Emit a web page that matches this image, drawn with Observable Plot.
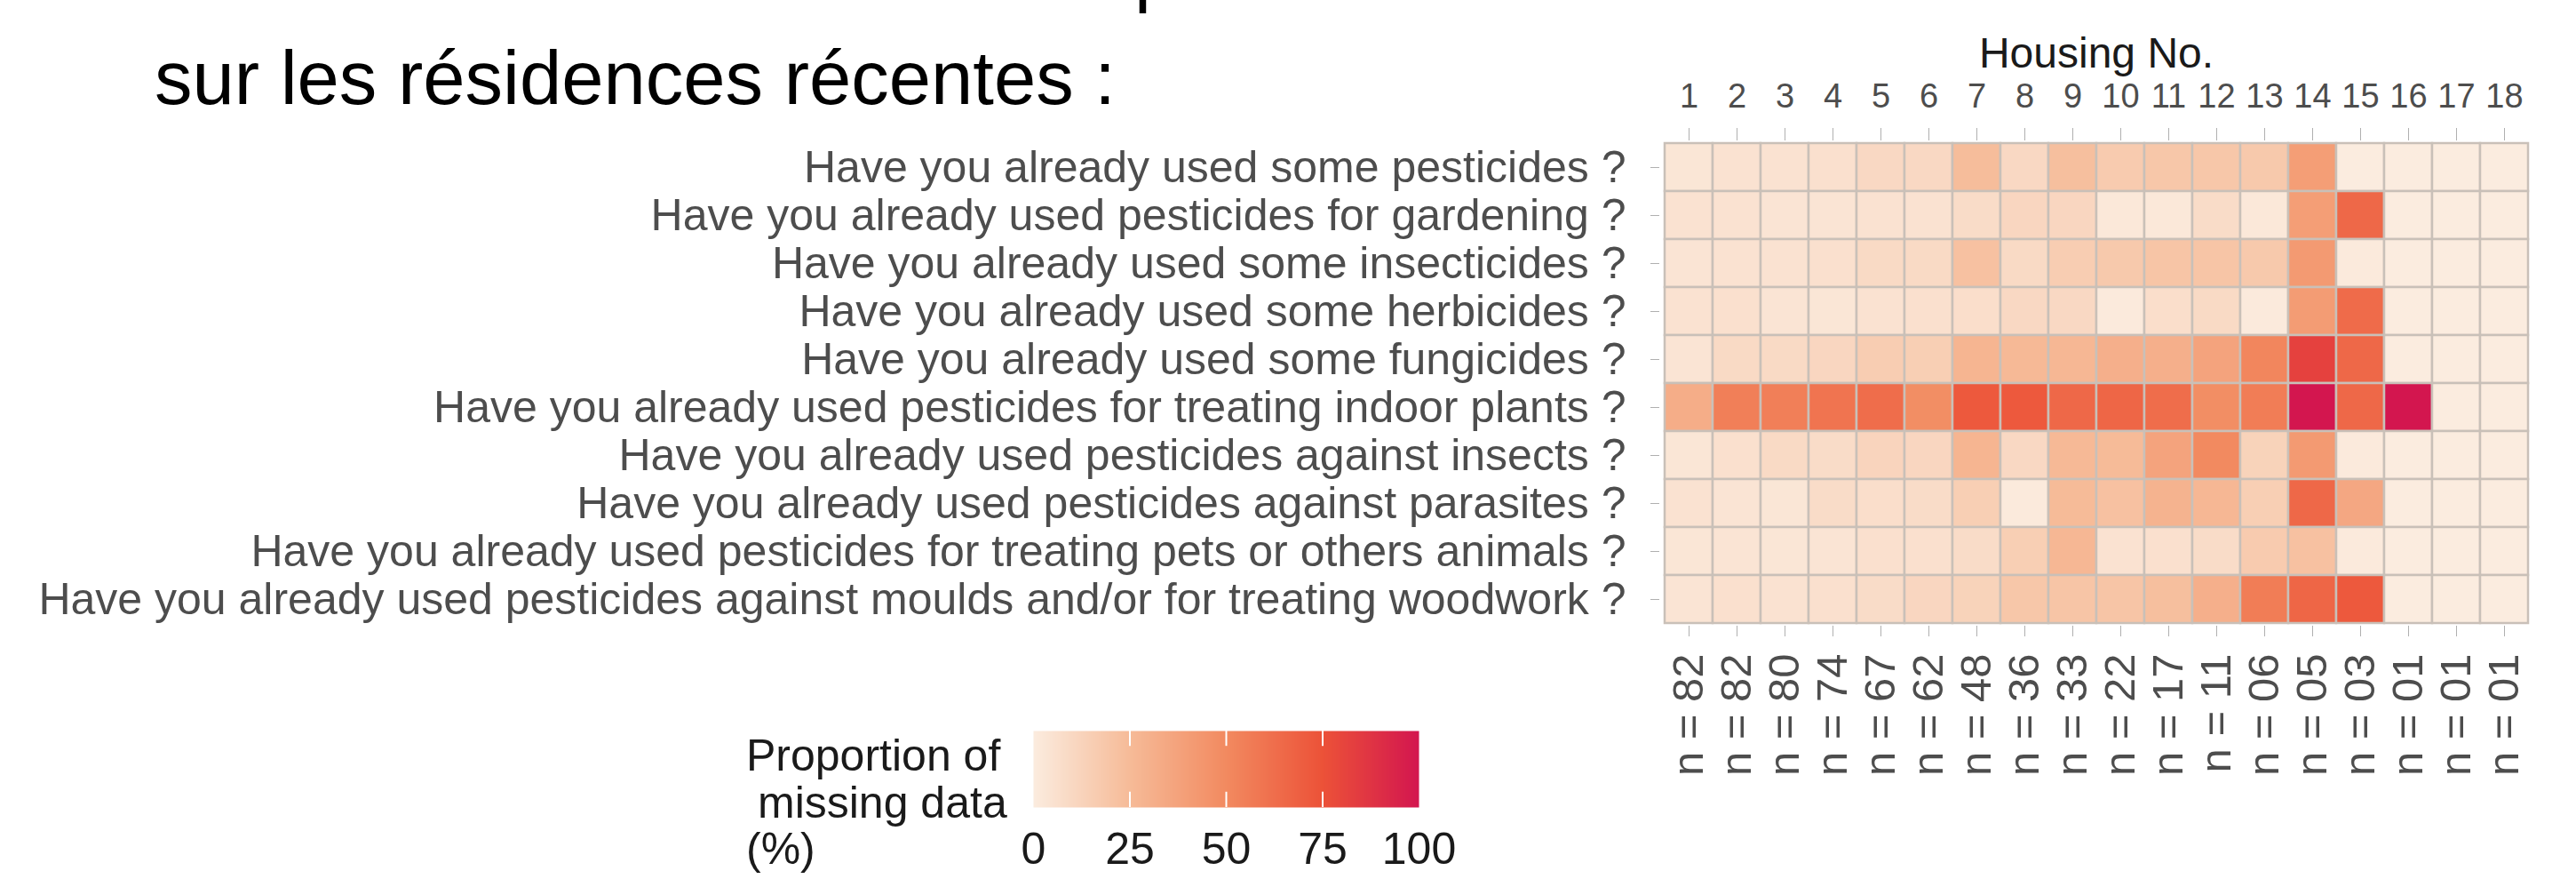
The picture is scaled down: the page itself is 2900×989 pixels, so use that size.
<!DOCTYPE html>
<html><head><meta charset="utf-8">
<script src="https://cdn.jsdelivr.net/npm/d3@7"></script>
<script src="https://cdn.jsdelivr.net/npm/@observablehq/plot@0.6"></script>
<style>
body{margin:0;background:#fff;width:2900px;height:989px;overflow:hidden;position:relative;font-family:"Liberation Sans",Arial,sans-serif;}
.abs{position:absolute;white-space:nowrap;line-height:1;}
</style></head><body>
<div id="chart" class="abs" style="left:0;top:0"></div>
<div id="legend" class="abs" style="left:1100px;top:800px"></div>
<div class="abs" style="left:1277px;top:-75px;font-size:85px;color:#000">p</div>
<div class="abs" style="left:174px;top:45px;font-size:85px;color:#000">sur les résidences récentes :</div>
<div class="abs" style="left:840px;top:825px;font-size:50px;color:#1a1a1a">Proportion of</div>
<div class="abs" style="left:853px;top:878px;font-size:50px;color:#1a1a1a">missing data</div>
<div class="abs" style="left:840px;top:930px;font-size:50px;color:#1a1a1a">(%)</div>
<script>
const houses = ["1","2","3","4","5","6","7","8","9","10","11","12","13","14","15","16","17","18"];
const nLabels = ["n = 82","n = 82","n = 80","n = 74","n = 67","n = 62","n = 48","n = 36","n = 33","n = 22","n = 17","n = 11","n = 06","n = 05","n = 03","n = 01","n = 01","n = 01"];
const questions = [
  "Have you already used some pesticides ?",
  "Have you already used pesticides for gardening ?",
  "Have you already used some insecticides ?",
  "Have you already used some herbicides ?",
  "Have you already used some fungicides ?",
  "Have you already used pesticides for treating indoor plants ?",
  "Have you already used pesticides against insects ?",
  "Have you already used pesticides against parasites ?",
  "Have you already used pesticides for treating pets or others animals ?",
  "Have you already used pesticides against moulds and/or for treating woodwork ?"
];
// proportion of missing data (%), one list per question, one value per housing
const missing = [
  [3, 5, 5, 6, 10, 10, 24, 10, 23, 17, 19, 19, 18, 40, 0, 0, 0, 0],
  [5, 5, 4, 4, 5, 5, 8, 11, 11, 2, 2, 8, 2, 40, 65, 0, 0, 0],
  [4, 5, 5, 6, 9, 9, 22, 9, 16, 18, 20, 20, 18, 42, 1, 0, 0, 0],
  [5, 6, 4, 3, 5, 6, 7, 10, 10, 1, 7, 9, 1, 41, 64, 0, 0, 0],
  [4, 9, 9, 11, 16, 15, 28, 26, 27, 31, 31, 37, 52, 82, 65, 0, 0, 0],
  [32, 55, 55, 60, 63, 48, 72, 72, 65, 66, 63, 48, 56, 100, 65, 100, 0, 0],
  [3, 6, 9, 8, 12, 11, 28, 10, 26, 25, 37, 50, 13, 42, 1, 0, 0, 0],
  [5, 4, 3, 8, 7, 8, 15, 1, 25, 22, 29, 27, 15, 65, 35, 0, 0, 0],
  [3, 4, 3, 4, 6, 6, 8, 15, 27, 5, 6, 8, 17, 22, 1, 0, 0, 0],
  [4, 6, 5, 6, 8, 11, 13, 19, 20, 20, 23, 31, 56, 66, 72, 0, 0, 0]
];
const legendTicks = [0, 25, 50, 75, 100];
const colorStops = ["#FBECDF", "#F6BB98", "#F28A60", "#EC5238", "#D3164F"];

const cells = questions.flatMap((q, i) => houses.map((h, j) => ({q, h, v: missing[i][j]})));
const nMap = new Map(houses.map((h, i) => [h, nLabels[i]]));
const color = {type: "linear", domain: legendTicks, range: colorStops, interpolate: "rgb"};
const font = "'Liberation Sans', Arial, sans-serif";

const chart = Plot.plot({
  width: 2900, height: 989,
  marginLeft: 1868, marginRight: 49, marginTop: 157, marginBottom: 285,
  style: {fontFamily: font, background: "transparent", overflow: "visible"},
  x: {domain: houses, padding: 0, label: null},
  y: {domain: questions, padding: 0, label: null},
  color,
  marks: [
    Plot.cell(cells, {x: "h", y: "q", fill: "v", stroke: "#c9c0b8", strokeWidth: 2.5, inset: 0}),
    Plot.axisX({anchor: "top", label: null, tickSize: 14, tickPadding: 23, fontSize: 38, fill: "#4d4d4d", stroke: "#b0b0b0"}),
    Plot.axisX({anchor: "bottom", label: null, tickSize: 12, tickPadding: 19, fontSize: 49, tickRotate: -90,
      tickFormat: h => nMap.get(h), fill: "#4d4d4d", stroke: "#b0b0b0"}),
    Plot.axisY({anchor: "left", label: null, tickSize: 10, tickPadding: 28, fontSize: 50, fill: "#4d4d4d", stroke: "#b0b0b0"}),
    Plot.text(["Housing No."], {text: d => d, frameAnchor: "top", dy: -82, lineAnchor: "bottom", fontSize: 48, fill: "#1a1a1a"})
  ]
});
document.getElementById("chart").append(chart);

const legend = Plot.plot({
  width: 520, height: 189,
  marginLeft: 63, marginRight: 23, marginTop: 22, marginBottom: 81,
  style: {fontFamily: font, background: "transparent", overflow: "visible"},
  x: {domain: [0, 100], label: null},
  y: {domain: [0, 1], axis: null},
  color,
  marks: [
    Plot.raster({fill: (x, y) => x, x1: 0, x2: 100, y1: 0, y2: 1, pixelSize: 1}),
    Plot.ruleX(legendTicks.slice(1, 4), {y1: 0, y2: 0.2, stroke: "white", strokeWidth: 2}),
    Plot.ruleX(legendTicks.slice(1, 4), {y1: 0.8, y2: 1, stroke: "white", strokeWidth: 2}),
    Plot.axisX({anchor: "bottom", ticks: legendTicks, tickSize: 0, tickPadding: 28, fontSize: 50, fill: "#1a1a1a", label: null})
  ]
});
document.getElementById("legend").append(legend);
</script>
</body></html>
